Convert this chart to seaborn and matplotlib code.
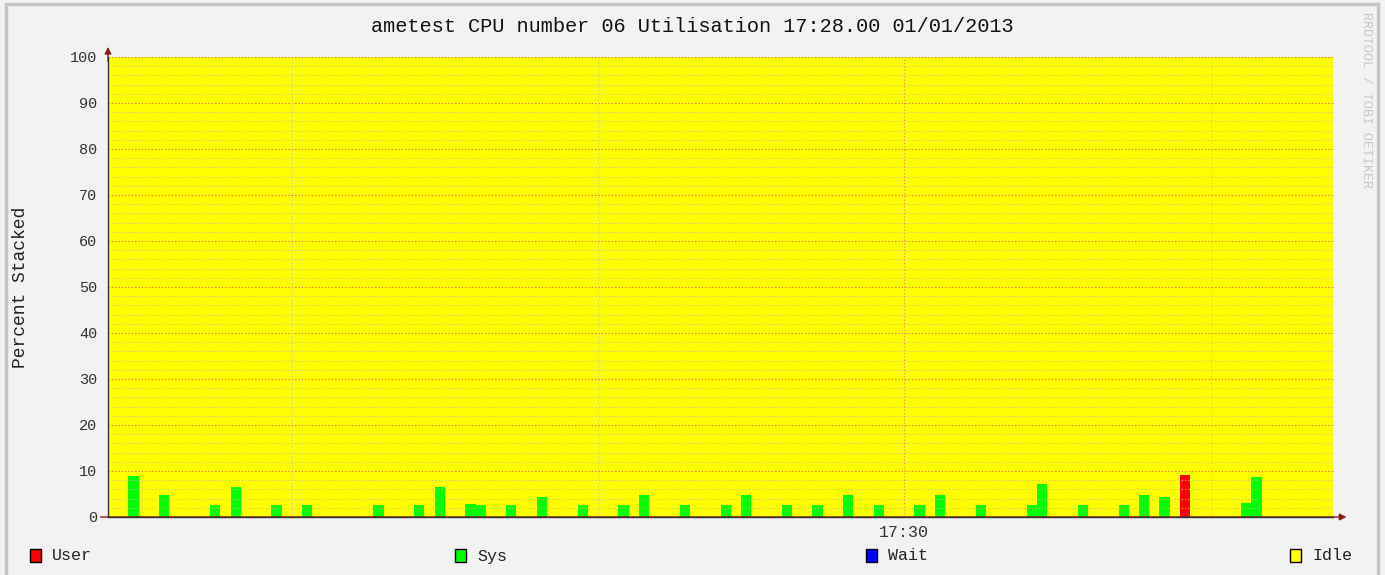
import numpy as np
import pandas as pd
import matplotlib
matplotlib.use("Agg")
import matplotlib.pyplot as plt
from matplotlib.patches import Rectangle
import seaborn as sns

# ----------------------------
# Data (1 s samples, offsets in seconds from 17:30:00)
# ----------------------------
start_offset = -78
n_samples = 120

sys_offsets = [-76, -73, -68, -66, -62, -59, -52, -48, -46, -43, -42, -39,
               -36, -32, -28, -26, -22, -18, -16, -12, -9, -6, -3, 1, 3,
               7, 12, 13, 17, 21, 23, 25, 33, 34]
sys_values = [9.0, 4.8, 2.5, 6.5, 2.5, 2.5, 2.5, 2.5, 6.5, 2.8, 2.5, 2.5,
              4.4, 2.5, 2.5, 4.8, 2.5, 2.5, 4.8, 2.5, 2.5, 4.8, 2.5, 2.5, 4.8,
              2.5, 2.5, 7.1, 2.5, 2.5, 4.8, 4.4, 3.1, 8.8]
user_offsets = [27]
user_values = [9.1]
wait_offsets = []
wait_values = []

series_names = ["User", "Sys", "Wait", "Idle"]
series_colors = ["#ff0000", "#00ff00", "#0000ff", "#ffff00"]

title = "ametest CPU number 06 Utilisation 17:28.00 01/01/2013"
x_tick_pos = [0]
x_tick_labels = ["17:30"]

# ----------------------------
# Build the frame
# ----------------------------
df = pd.DataFrame({"t": np.arange(start_offset, start_offset + n_samples)})
df["User"] = df["t"].map(dict(zip(user_offsets, user_values))).fillna(0.0)
df["Sys"] = df["t"].map(dict(zip(sys_offsets, sys_values))).fillna(0.0)
df["Wait"] = df["t"].map(dict(zip(wait_offsets, wait_values))).fillna(0.0)
df["Idle"] = 100 - df["User"] - df["Sys"] - df["Wait"]

# ----------------------------
# Style
# ----------------------------
sns.set_theme(style="white")
plt.rcParams["font.family"] = ["Liberation Mono", "DejaVu Sans Mono"]
bg = "#f2f2f2"

fig = plt.figure(figsize=(13.85, 5.75), dpi=100, facecolor=bg)
ax = fig.add_axes([108 / 1385, 1 - 517 / 575, 1225 / 1385, 460 / 575])
ax.set_facecolor(bg)

# stacked step areas
x = np.append(df["t"].values, df["t"].values[-1] + 1)
lower = np.zeros(len(x))
for name, color in zip(series_names, series_colors):
    vals = np.append(df[name].values, df[name].values[-1])
    ax.fill_between(x, lower, lower + vals, step="post", color=color,
                    lw=0, antialiased=False, zorder=1)
    lower = lower + vals

ax.set_xlim(start_offset, start_offset + n_samples)
ax.set_ylim(0, 100)

# grid: minor every 2 %, major every 10 %; vertical every 30 s
for yv in np.arange(2, 101, 2):
    major = yv % 10 == 0
    ax.axhline(yv, color="#e06060" if major else "#c0c090",
               ls=(0, (1, 2)), lw=0.8, zorder=2)
for xv in np.arange(-60, 42, 30):
    major = xv == 0
    ax.axvline(xv, color="#e08080" if major else "#c8c8a0",
               ls=(0, (1, 2)), lw=0.8, zorder=2)

ax.set_yticks(np.arange(0, 101, 10))
ax.set_xticks(x_tick_pos)
ax.set_xticklabels(x_tick_labels)
ax.tick_params(axis="both", labelsize=11, colors="#333333", length=4,
               width=0.8, direction="out")
ax.tick_params(axis="x", pad=2, labelsize=12)
ax.set_ylabel("Percent Stacked", fontsize=13, color="#222222", labelpad=30)

sns.despine(ax=ax, top=True, right=True)
for s in ["left", "bottom"]:
    ax.spines[s].set_color("#333333")
    ax.spines[s].set_linewidth(1.0)
    ax.spines[s].set_zorder(3)

# axis arrows
ax.annotate("", xy=(1.011, 0), xytext=(-0.006, 0), xycoords="axes fraction",
            arrowprops=dict(arrowstyle="-|>", color="#333333", lw=1.0,
                            mutation_scale=10, fc="#8b1a1a", ec="#8b1a1a",
                            shrinkA=0, shrinkB=0), annotation_clip=False)
ax.annotate("", xy=(0, 1.022), xytext=(0, 0.99), xycoords="axes fraction",
            arrowprops=dict(arrowstyle="-|>", color="#8b1a1a", lw=1.0,
                            mutation_scale=10, shrinkA=0, shrinkB=0),
            annotation_clip=False)

# title
fig.text(692 / 1385, 1 - 26 / 575, title, ha="center", va="center",
         fontsize=14.6, color="#111111")

# watermark
fig.text(1366 / 1385, 1 - 100 / 575, "RRDTOOL / TOBI OETIKER", rotation=270,
         ha="center", va="center", fontsize=9.5, color="#c8c8c8")

# legend
legend_x = [30, 455, 866, 1290]
for px, name, color in zip(legend_x, series_names, series_colors):
    fig.patches.append(Rectangle((px / 1385, 1 - 562 / 575), 11 / 1385,
                                 13 / 575, transform=fig.transFigure,
                                 fc=color, ec="#000000", lw=1.0))
    fig.text((px + 22) / 1385, 1 - 556 / 575, name, ha="left", va="center",
             fontsize=12, color="#222222")

# frame around the image
fig.patches.append(Rectangle((6 / 1385, -0.01), 1372 / 1385, 1 - 4 / 575 + 0.01,
                             transform=fig.transFigure, fill=False,
                             ec="#c4c4c4", lw=2.5))

fig.savefig("out.png", dpi=100, facecolor=bg)
